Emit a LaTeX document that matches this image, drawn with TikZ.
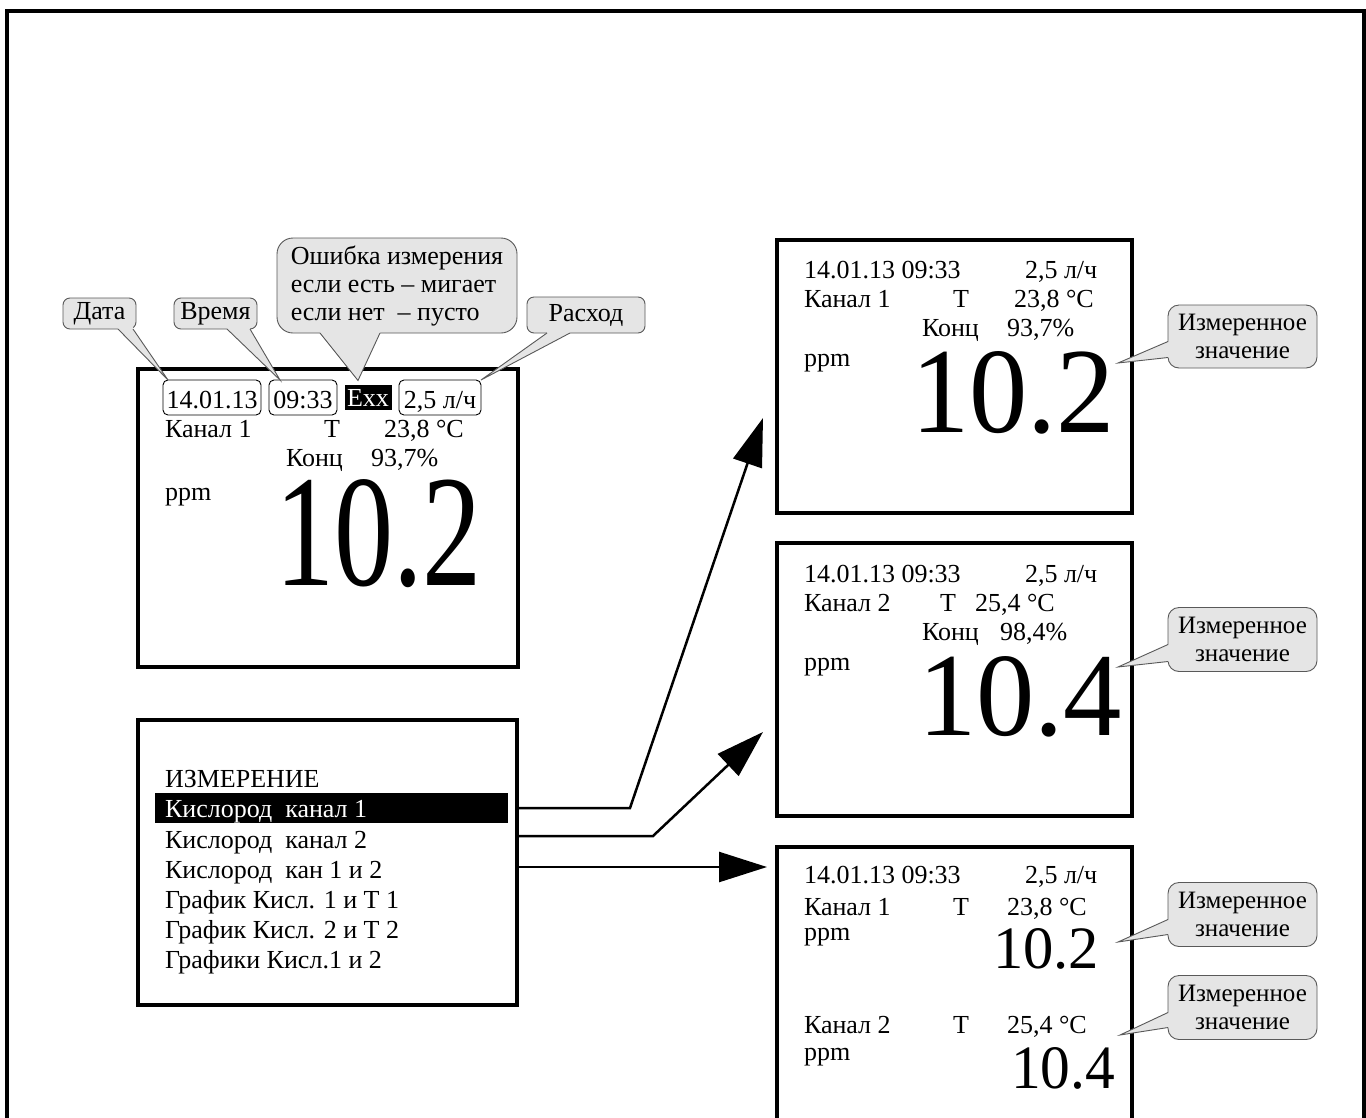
\documentclass[tikz,border=0pt]{standalone}
\usepackage{fontspec}
\setmainfont{Liberation Serif}
\usepackage{graphicx}
\usetikzlibrary{arrows.meta,calc}
\definecolor{cfill}{gray}{0.9}
\definecolor{cdraw}{gray}{0.35}
\tikzset{
 scr/.style={draw, line width=3.5pt, inner sep=0pt, outer sep=0pt},
 txt/.style={font=\fontsize{26}{30}\selectfont, inner sep=0pt, outer sep=0pt, anchor=base west},
 tbox/.style={draw, line width=0.9pt, rounded corners=5pt, font=\fontsize{26}{30}\selectfont, inner sep=0pt, outer sep=0pt, minimum height=35pt, text height=26pt, text depth=5pt},
 call/.style={fill=cfill, draw=cdraw, line width=0.9pt, inner sep=0pt, outer sep=0pt, font=\fontsize{26}{28}\selectfont},
 callsm/.style={call, rounded corners=11pt, font=\fontsize{25}{28}\selectfont, align=center, minimum width=149pt, minimum height=64pt},
 ptrline/.style={draw=cdraw, line width=0.9pt},
 arr/.style={line width=2.5pt, -{Triangle[length=48pt,width=30pt]}},
 big/.style={inner sep=0pt, outer sep=0pt, anchor=base west},
 selbox/.style={fill=black, inner sep=0pt, outer sep=0pt},
}
\begin{document}
\begin{tikzpicture}[x=1pt,y=-1pt]
\path[use as bounding box] (0,0) rectangle (1366,1117);
\clip (0,0) rectangle (1366,1117);
\fill[white] (0,0) rectangle (1366,1117);
% outer frame
\coordinate (fa) at (7,1140);
\coordinate (fb) at (7,11);
\coordinate (fc) at (1364,11);
\coordinate (fd) at (1364,1140);
\draw[line width=4pt] (fa) -- (fb) -- (fc) -- (fd);

% ---------- left main screen
\node[scr, minimum width=380pt, minimum height=298pt] (s0) at (328,518) {};
\node[tbox, minimum width=98pt] (date) at (212,397.5) {14.01.13};
\node[tbox, minimum width=68pt] (time) at (303,397.5) {09:33};
\node[selbox, text=white, font=\fontsize{26}{30}\selectfont, minimum width=47pt, minimum height=25pt, text height=18pt, text depth=0pt] (exx) at (368,397) {Exx};
\node[tbox, minimum width=82pt] (flow) at (440,397.5) {2,5 л/ч};
\node[txt] (k0) at (165,437) {Канал 1};
\node[txt] (t0) at (324,437) {T};
\node[txt] (tc0) at (384,437) {23,8 °C};
\node[txt] (c0) at (286,466) {Конц};
\node[txt] (p0) at (371,466) {93,7\%};
\node[txt] (u0) at (165,500) {ppm};
\node[big] (v0) at (275,585) {\resizebox{207pt}{106pt}{\fontsize{100}{100}\selectfont 10.2}};

% ---------- menu
\node[scr, minimum width=379pt, minimum height=285pt] (menu) at (327.5,862.5) {};
\node[txt] (m0) at (165,787) {ИЗМЕРЕНИЕ};
\node[selbox, minimum width=353pt, minimum height=30pt] (selbar) at (331.5,808) {};
\node[txt, text=white] (m1) at (165,817) {Кислород\ \ канал 1};
\node[txt] (m2) at (165,848) {Кислород\ \ канал 2};
\node[txt] (m3) at (165,878) {Кислород\ \ кан 1 и 2};
\node[txt] (m4) at (165,908) {График Кисл. 1 и T 1};
\node[txt] (m5) at (165,938) {График Кисл. 2 и T 2};
\node[txt] (m6) at (165,968) {Графики Кисл.1 и 2};

% ---------- right screen 1
\node[scr, minimum width=355pt, minimum height=273pt] (s1) at (954.5,376.5) {};
\node[txt] (r1a) at (804,278) {14.01.13 09:33};
\node[txt] (r1b) at (1025,278) {2,5 л/ч};
\node[txt] (r1c) at (804,307) {Канал 1};
\node[txt] (r1d) at (953,307) {T};
\node[txt] (r1e) at (1014,307) {23,8 °C};
\node[txt] (r1f) at (922,336) {Конц};
\node[txt] (r1g) at (1007,336) {93,7\%};
\node[txt] (r1h) at (804,366) {ppm};
\node[big] (v1) at (911,432) {\resizebox{204pt}{81pt}{\fontsize{100}{100}\selectfont 10.2}};

% ---------- right screen 2
\node[scr, minimum width=355pt, minimum height=273pt] (s2) at (954.5,679.5) {};
\node[txt] (r2a) at (804,582) {14.01.13 09:33};
\node[txt] (r2b) at (1025,582) {2,5 л/ч};
\node[txt] (r2c) at (804,611) {Канал 2};
\node[txt] (r2d) at (940,611) {T};
\node[txt] (r2e) at (975,611) {25,4 °C};
\node[txt] (r2f) at (922,640) {Конц};
\node[txt] (r2g) at (1000,640) {98,4\%};
\node[txt] (r2h) at (804,670) {ppm};
\node[big] (v2) at (918,735) {\resizebox{204pt}{79pt}{\fontsize{100}{100}\selectfont 10.4}};

% ---------- right screen 3
\node[scr, minimum width=355pt, minimum height=293pt] (s3) at (954.5,993.5) {};
\node[txt] (r3a) at (804,883) {14.01.13 09:33};
\node[txt] (r3b) at (1025,883) {2,5 л/ч};
\node[txt] (r3c) at (804,915) {Канал 1};
\node[txt] (r3d) at (953,915) {T};
\node[txt] (r3e) at (1007,915) {23,8 °C};
\node[txt] (r3f) at (804,940) {ppm};
\node[big] (v3) at (993,968) {\resizebox{106pt}{40pt}{\fontsize{100}{100}\selectfont 10.2}};
\node[txt] (r3g) at (804,1033) {Канал 2};
\node[txt] (r3h) at (953,1033) {T};
\node[txt] (r3i) at (1007,1033) {25,4 °C};
\node[txt] (r3j) at (804,1060) {ppm};
\node[big] (v4) at (1011,1088) {\resizebox{104pt}{41pt}{\fontsize{100}{100}\selectfont 10.4}};

% ---------- arrows
\coordinate (a1b) at (630,808);
\coordinate (a1t) at (763,418);
\coordinate (a2b) at (653,836);
\coordinate (a2t) at (763,732);
\coordinate (a3t) at (767,867);
\draw[arr] (menu.east |- a1b) -- (a1b) -- (a1t);
\draw[arr] (menu.east |- a2b) -- (a2b) -- (a2t);
\draw[arr] (menu.east |- a3t) -- (a3t);

% ---------- top callouts
\node[call, rounded corners=7pt, minimum width=73pt, minimum height=31pt] (cdate) at (99.5,313.5) {Дата};
\node[call, rounded corners=7pt, minimum width=83pt, minimum height=31pt] (ctime) at (215.5,313.5) {Время};
\node[call, rounded corners=16pt, minimum width=240pt, minimum height=95pt, align=left] (cerr) at (397,285.5) {Ошибка измерения\\если есть – мигает\\если нет\ \ – пусто};
\node[call, rounded corners=7pt, minimum width=118pt, minimum height=36pt] (cflow) at (586,315) {Расход};

\coordinate (dA) at ($(cdate.south west)+(55,0)$);
\coordinate (dB) at ($(cdate.south west)+(70,0)$);
\coordinate (dT) at ($(date.north west)+(5,0)$);
\fill[cfill] ($(dA)+(0,-2.5)$) -- (dA) -- (dT) -- (dB) -- ($(dB)+(0,-2.5)$) -- cycle;
\draw[ptrline] (dA) -- (dT) -- (dB);

\coordinate (tA) at ($(ctime.south west)+(53,0)$);
\coordinate (tB) at ($(ctime.south west)+(76,0)$);
\coordinate (tT) at ($(time.north west)+(11,0)$);
\fill[cfill] ($(tA)+(0,-2.5)$) -- (tA) -- (tT) -- (tB) -- ($(tB)+(0,-2.5)$) -- cycle;
\draw[ptrline] (tA) -- (tT) -- (tB);

\coordinate (eA) at ($(cerr.south west)+(43,0)$);
\coordinate (eB) at ($(cerr.south west)+(103,0)$);
\coordinate (eT) at ($(exx.north)+(-10,-4)$);
\fill[cfill] ($(eA)+(0,-2.5)$) -- (eA) -- (eT) -- (eB) -- ($(eB)+(0,-2.5)$) -- cycle;
\draw[ptrline] (eA) -- (eT) -- (eB);

\coordinate (fA) at ($(cflow.south west)+(20,0)$);
\coordinate (fB) at ($(cflow.south west)+(43,0)$);
\coordinate (fT) at (flow.north east);
\fill[cfill] ($(fA)+(0,-2.5)$) -- (fA) -- (fT) -- (fB) -- ($(fB)+(0,-2.5)$) -- cycle;
\draw[ptrline] (fA) -- (fT) -- (fB);

% ---------- right callouts
\node[callsm, minimum height=63pt] (cv1) at (1242.5,336.5) {Измеренное\\значение};
\node[callsm] (cv2) at (1242.5,639.5) {Измеренное\\значение};
\node[callsm] (cv3) at (1242.5,914.5) {Измеренное\\значение};
\node[callsm] (cv4) at (1242.5,1007.5) {Измеренное\\значение};

\coordinate (p1A) at ($(cv1.west)+(0,5)$);
\coordinate (p1B) at ($(cv1.west)+(0,21)$);
\coordinate (p1T) at (1118,363);
\fill[cfill] ($(p1A)+(2.5,0)$) -- (p1A) -- (p1T) -- (p1B) -- ($(p1B)+(2.5,0)$) -- cycle;
\draw[ptrline] (p1A) -- (p1T) -- (p1B);

\coordinate (p2A) at ($(cv2.west)+(0,5)$);
\coordinate (p2B) at ($(cv2.west)+(0,22)$);
\coordinate (p2T) at (1118,667);
\fill[cfill] ($(p2A)+(2.5,0)$) -- (p2A) -- (p2T) -- (p2B) -- ($(p2B)+(2.5,0)$) -- cycle;
\draw[ptrline] (p2A) -- (p2T) -- (p2B);

\coordinate (p3A) at ($(cv3.west)+(0,5)$);
\coordinate (p3B) at ($(cv3.west)+(0,20)$);
\coordinate (p3T) at (1118,942);
\fill[cfill] ($(p3A)+(2.5,0)$) -- (p3A) -- (p3T) -- (p3B) -- ($(p3B)+(2.5,0)$) -- cycle;
\draw[ptrline] (p3A) -- (p3T) -- (p3B);

\coordinate (p4A) at ($(cv4.west)+(0,5)$);
\coordinate (p4B) at ($(cv4.west)+(0,20)$);
\coordinate (p4T) at (1120,1035);
\fill[cfill] ($(p4A)+(2.5,0)$) -- (p4A) -- (p4T) -- (p4B) -- ($(p4B)+(2.5,0)$) -- cycle;
\draw[ptrline] (p4A) -- (p4T) -- (p4B);
\end{tikzpicture}
\end{document}
